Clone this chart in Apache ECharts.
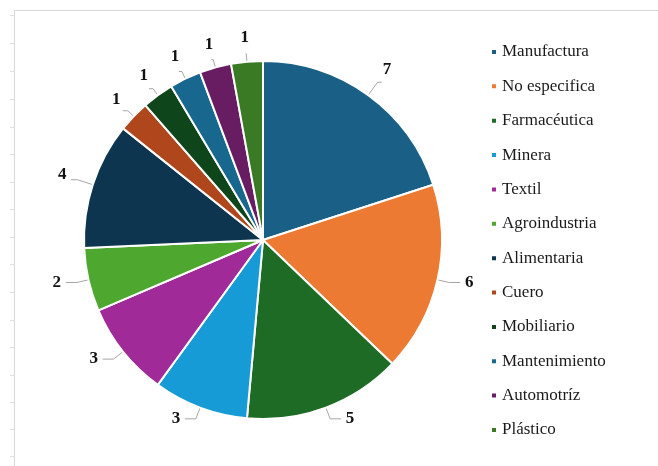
<!DOCTYPE html>
<html><head><meta charset="utf-8">
<script src="https://cdn.jsdelivr.net/npm/echarts@6/dist/echarts.min.js"></script>
<style>html,body{margin:0;padding:0;background:#fff}#c{width:658px;height:466px}</style>
</head><body><div id="c"></div>
<script>
const categories = ['Manufactura','No especifica','Farmacéutica','Minera','Textil','Agroindustria','Alimentaria','Cuero','Mobiliario','Mantenimiento','Automotríz','Plástico'];
const values = [7,6,5,3,3,2,4,1,1,1,1,1];
const colors = ['#1a5f85','#ec7a33','#1e6b26','#179bd6','#a02a98','#4ea72f','#0e3550','#b0461b','#0f451a','#17678f','#681c62','#3a7a25'];
const leftTicks = [15,43,71,99,127,154,182,209,237,264,292,320,347,375,402,429,456];

const chart = echarts.init(document.getElementById('c'), null, {renderer:'canvas'});
const graphics = [
  {type:'line', shape:{x1:14,y1:10.5,x2:658,y2:10.5}, style:{stroke:'#d9d9d9',lineWidth:1}, silent:true},
  {type:'line', shape:{x1:14.5,y1:10,x2:14.5,y2:466}, style:{stroke:'#d9d9d9',lineWidth:1}, silent:true}
];
leftTicks.forEach(function(t){
  graphics.push({type:'line', shape:{x1:10,y1:t+0.5,x2:14,y2:t+0.5}, style:{stroke:'#e0e0e0',lineWidth:1}, silent:true});
});
chart.setOption({
  animation:false,
  color: colors,
  graphic: graphics,
  legend: {
    orient:'vertical', left:485, top:38,
    itemWidth:6, itemHeight:6, itemGap:16.36, icon:'rect',
    textStyle:{fontFamily:'Liberation Serif', fontSize:17, color:'#1a1a1a', lineHeight:18},
    data: categories
  },
  series: [{
    type:'pie',
    center:[263,240],
    radius:179,
    startAngle:90,
    clockwise:true,
    avoidLabelOverlap:false,
    data: categories.map(function(n,i){return {name:n, value:values[i]};}),
    itemStyle:{borderColor:'#fff', borderWidth:2},
    label:{show:true, position:'outside', formatter:'{c}', fontFamily:'Liberation Serif', fontWeight:'bold', fontSize:17, color:'#111'},
    labelLine:{show:true, length:16, length2:6, lineStyle:{color:'#a6a6a6', width:1}},
    labelLayout: function(p){
      const pts = p.labelLinePoints;
      if (!pts) return {};
      const p0 = pts[0], p1 = pts[1];
      let dx = p1[0]-p0[0], dy = p1[1]-p0[1];
      const len = Math.sqrt(dx*dx+dy*dy) || 1;
      dx /= len; dy /= len;
      const sign = dx >= 0 ? 1 : -1;
      if (dy < 0) {
        const D = values[p.dataIndex] > 1 ? 32 : 24;
        const m = [p0[0]+dx*(D-16), p0[1]+dy*(D-16)];
        const m2 = [m[0]+sign*7*Math.abs(dx), m[1]];
        return {x: p0[0]+dx*D, y: p0[1]+dy*D, align:'center', verticalAlign:'middle', labelLinePoints:[p0, m, m2]};
      }
      const a = 12, b = 20;
      const m = [p0[0]+dx*a, p0[1]+dy*a];
      const m2 = [m[0]+sign*(b-9), m[1]];
      return {x: m[0]+sign*b, y: m[1], align:'center', verticalAlign:'middle', labelLinePoints:[p0, m, m2]};
    }
  }]
});
</script></body></html>
